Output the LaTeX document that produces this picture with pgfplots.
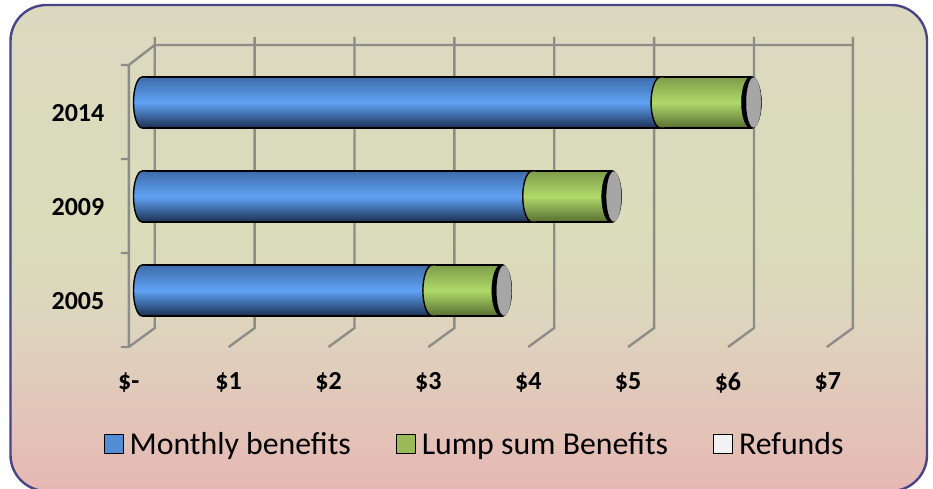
\documentclass[border=0pt]{standalone}
\usepackage{fontspec}
\setmainfont{Carlito}
\usepackage{pgfplots}
\pgfplotsset{compat=1.18}

\definecolor{gridgray}{RGB}{140,140,136}
\definecolor{framecol}{RGB}{72,68,136}
\definecolor{bluetop}{RGB}{62,108,170}
\definecolor{bluemid}{RGB}{96,162,244}
\definecolor{bluebot}{RGB}{28,48,82}
\definecolor{greentop}{RGB}{126,156,74}
\definecolor{greenmid}{RGB}{176,218,106}
\definecolor{greenbot}{RGB}{88,110,50}
\definecolor{capgray}{RGB}{166,166,166}
\definecolor{bluekey}{RGB}{83,141,213}
\definecolor{greenkey}{RGB}{155,187,89}
\definecolor{whitekey}{RGB}{242,242,242}

\pgfdeclareverticalshading{panelfade}{100bp}{
  rgb(0bp)=(0.902,0.722,0.706);
  rgb(25bp)=(0.902,0.722,0.706);
  rgb(41.6bp)=(0.871,0.831,0.745);
  rgb(51.9bp)=(0.851,0.867,0.729);
  rgb(75bp)=(0.863,0.847,0.753);
  rgb(100bp)=(0.863,0.847,0.753)}

\tikzset{
  bluebar/.style={top color=bluetop,bottom color=bluebot,middle color=bluemid},
  greenbar/.style={top color=greentop,bottom color=greenbot,middle color=greenmid}}

% half ellipses that close the left end of a bar segment
\pgfdeclareplotmark{leftblue}{%
  \shade[draw=none,bluebar,xslant=0.08] (0pt,25.5pt) arc[start angle=90,end angle=270,x radius=8.8pt,y radius=25.5pt] -- ++(4pt,0pt) -- ++(0pt,51pt) -- cycle;
  \draw[black,line width=1.4pt,xslant=0.08] (6pt,25.5pt) -- (0pt,25.5pt) arc[start angle=90,end angle=270,x radius=8.8pt,y radius=25.5pt] -- (6pt,-25.5pt);}
\pgfdeclareplotmark{leftgreen}{%
  \shade[draw=none,greenbar,xslant=0.08] (0pt,25.5pt) arc[start angle=90,end angle=270,x radius=9.5pt,y radius=25.5pt] -- ++(4pt,0pt) -- ++(0pt,51pt) -- cycle;
  \draw[black,line width=1.4pt,xslant=0.08] (6pt,25.5pt) -- (0pt,25.5pt) arc[start angle=90,end angle=270,x radius=9.5pt,y radius=25.5pt] -- (6pt,-25.5pt);}
\pgfdeclareplotmark{endcap}{%
  \fill[black,xslant=0.12] (0pt,0pt) ellipse[x radius=10pt,y radius=26.2pt];
  \fill[capgray,xslant=0.12] (2.2pt,0pt) ellipse[x radius=7.2pt,y radius=24.8pt];}

\begin{document}
\begin{tikzpicture}[x=1pt,y=1pt]
\path[use as bounding box] (0,0) rectangle (933,488);
\shade[shading=panelfade,draw=framecol,line width=2.4pt,rounded corners=36pt] (10.5,-3) rectangle (927,483);

% frame: wall lines and tick labels
\begin{axis}[
  at={(129,150)},anchor=south west,
  x=99.86pt,y=94pt,
  xmin=-0.135,xmax=7.115,ymin=-0.601,ymax=2.697,
  clip=false,
  axis line style={draw=none},
  major tick length=0pt,
  xtick={0,1,2,3,4,5,6,7},
  xticklabels={\$-,\$1,\$2,\$3,\$4,\$5,\$6,\$7},
  ytick={0,1,2},
  yticklabels={2005,2009,2014},
  tick label style={font=\fontsize{26}{31}\selectfont\bfseries},
  xticklabel style={xshift=-13.5pt,yshift=-22pt},
  yticklabel style={xshift=-21pt,yshift=-10.5pt},
  unbounded coords=jump,
]
\addplot[gridgray,line width=2.4pt,line join=miter] coordinates {
  (0.125,2.697) (0.125,-0.399) (-0.135,-0.601) (nan,nan)
  (1.125,2.697) (1.125,-0.399) (0.865,-0.601) (nan,nan)
  (2.125,2.697) (2.125,-0.399) (1.865,-0.601) (nan,nan)
  (3.125,2.697) (3.125,-0.399) (2.865,-0.601) (nan,nan)
  (4.125,2.697) (4.125,-0.399) (3.865,-0.601) (nan,nan)
  (5.125,2.697) (5.125,-0.399) (4.865,-0.601) (nan,nan)
  (6.125,2.697) (6.125,-0.399) (5.865,-0.601) (nan,nan)
  (7.115,2.697) (7.115,-0.399) (6.855,-0.601) (nan,nan)
  (7.115,2.612) (0.125,2.612) (-0.135,2.399) (-0.135,-0.601) (nan,nan)
  (-0.215,2.399) (-0.135,2.399) (nan,nan)
  (-0.215,1.399) (-0.135,1.399) (nan,nan)
  (-0.215,0.399) (-0.135,0.399) (nan,nan)
  (-0.215,-0.601) (-0.135,-0.601)
};
\end{axis}

% bars, end caps and legend; each bar is its own plot so it gets its own shading
\begin{axis}[
  at={(129,150)},anchor=south west,
  x=99.86pt,y=94pt,
  xmin=-0.135,xmax=7.115,ymin=-0.601,ymax=2.697,
  clip=false,
  hide axis,
  xbar,
  bar shift=0pt,
  bar width=51pt,
  legend columns=3,
  legend cell align=left,
  legend style={
    at={(axis cs:-0.386,-1.634)},anchor=west,
    draw=none,fill=none,inner sep=0pt,outer sep=0pt,
    font=\fontsize{31.8}{36}\selectfont,
    /tikz/every even column/.append style={column sep=43pt},
  },
  legend image code/.code={
    \draw[#1,draw=black,line width=1.3pt] (0pt,-9.5pt) rectangle (19pt,9.5pt);
    \path (23pt,0pt);
  },
]
% monthly + lump sum, drawn first, monthly on top of it
\addplot[draw=black,line width=1.4pt,greenbar,forget plot] coordinates {(6.10,2)};
\addplot[draw=black,line width=1.4pt,greenbar,forget plot] coordinates {(4.70,1)};
\addplot[draw=black,line width=1.4pt,greenbar,forget plot] coordinates {(3.60,0)};
\addplot[draw=black,line width=1.4pt,bluebar,forget plot] coordinates {(5.19,2)};
\addplot[draw=black,line width=1.4pt,bluebar,forget plot] coordinates {(3.905,1)};
\addplot[draw=black,line width=1.4pt,bluebar,forget plot] coordinates {(2.905,0)};
\addplot[sharp plot,only marks,mark=leftblue,forget plot] coordinates {(0,2) (0,1) (0,0)};
\addplot[sharp plot,only marks,mark=leftgreen,forget plot] coordinates {(5.19,2) (3.905,1) (2.905,0)};
\addplot[sharp plot,only marks,mark=endcap,forget plot] coordinates {(6.10,2) (4.70,1) (3.60,0)};
\addlegendimage{fill=bluekey}
\addlegendentry{Monthly benefits}
\addlegendimage{fill=greenkey}
\addlegendentry{Lump sum Benefits}
\addlegendimage{fill=whitekey}
\addlegendentry{Refunds}
\end{axis}
\end{tikzpicture}
\end{document}
